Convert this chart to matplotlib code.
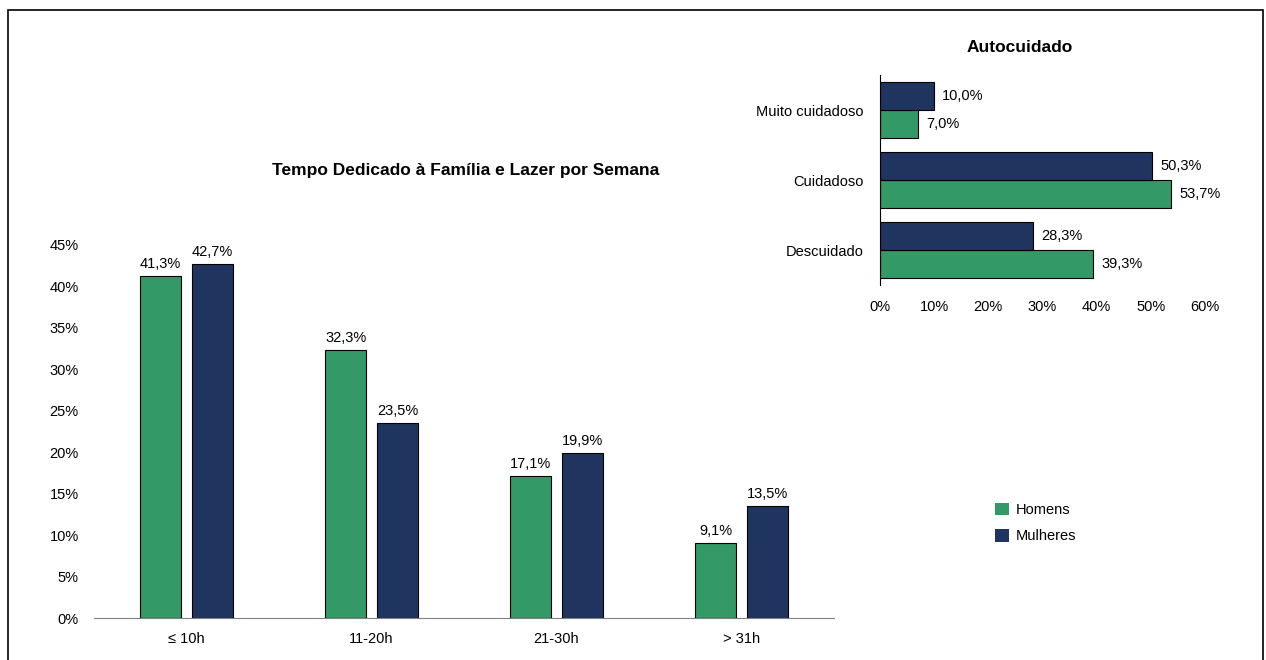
import matplotlib
matplotlib.use("Agg")
import matplotlib.pyplot as plt
from matplotlib.patches import Rectangle, Patch
import numpy as np

plt.rcParams['font.family'] = ['Liberation Sans', 'DejaVu Sans']

# Data
hour_categories = ["≤ 10h", "11-20h", "21-30h", "> 31h"]
homens_tempo = [41.3, 32.3, 17.1, 9.1]
mulheres_tempo = [42.7, 23.5, 19.9, 13.5]

care_categories = ["Muito cuidadoso", "Cuidadoso", "Descuidado"]
homens_care = [7.0, 53.7, 39.3]
mulheres_care = [10.0, 50.3, 28.3]

series_names = ["Homens", "Mulheres"]
GREEN = "#339966"
NAVY = "#1F3560"

W, H = 1266, 660
fig = plt.figure(figsize=(W / 100, H / 100), dpi=100)

def ax_rect(l, t, r, b):
    return [l / W, 1 - b / H, (r - l) / W, (b - t) / H]

def fmt(v):
    return f"{v:.1f}%".replace(".", ",")

# Main chart
ax = fig.add_axes(ax_rect(94, 245, 834, 618))
x = np.arange(len(hour_categories))
bw = 0.22
off = 0.14
b1 = ax.bar(x - off, homens_tempo, bw, color=GREEN, edgecolor="black", linewidth=0.8, label=series_names[0])
b2 = ax.bar(x + off, mulheres_tempo, bw, color=NAVY, edgecolor="black", linewidth=0.8, label=series_names[1])
for bars, vals in ((b1, homens_tempo), (b2, mulheres_tempo)):
    for rect, v in zip(bars, vals):
        ax.text(rect.get_x() + rect.get_width() / 2, v + 0.6, fmt(v), ha="center", va="bottom", fontsize=10.5)
ax.set_xlim(-0.5, len(hour_categories) - 0.5)
ax.set_ylim(0, 45)
ax.set_yticks(np.arange(0, 46, 5))
ax.set_yticklabels([f"{t}%" for t in range(0, 46, 5)], fontsize=10.5)
ax.set_xticks(x)
ax.set_xticklabels(hour_categories, fontsize=10.5)
for s in ("top", "right", "left"):
    ax.spines[s].set_visible(False)
ax.spines["bottom"].set_color("#808080")
ax.tick_params(axis="both", length=0)
ax.tick_params(axis="y", pad=11)
ax.tick_params(axis="x", pad=10)
fig.text(466 / W, 1 - 170 / H, "Tempo Dedicado à Família e Lazer por Semana", ha="center", va="center",
         fontsize=12.5, fontweight="bold")

# Inset chart
ax2 = fig.add_axes(ax_rect(880, 75, 1205, 285))
y = np.arange(len(care_categories))
bh = 0.4
h1 = ax2.barh(y + bh / 2, homens_care, bh, color=GREEN, edgecolor="black", linewidth=0.8)
h2 = ax2.barh(y - bh / 2, mulheres_care, bh, color=NAVY, edgecolor="black", linewidth=0.8)
for bars, vals in ((h1, homens_care), (h2, mulheres_care)):
    for rect, v in zip(bars, vals):
        ax2.text(v + 1.5, rect.get_y() + rect.get_height() / 2, fmt(v), ha="left", va="center", fontsize=10.5)
ax2.set_ylim(len(care_categories) - 0.5, -0.5)
ax2.set_xlim(0, 60)
ax2.set_xticks(np.arange(0, 61, 10))
ax2.set_xticklabels([f"{t}%" for t in range(0, 61, 10)], fontsize=10.5)
ax2.set_yticks(y)
ax2.set_yticklabels(care_categories, fontsize=10.5)
for s in ("top", "right", "bottom"):
    ax2.spines[s].set_visible(False)
ax2.tick_params(axis="both", length=0)
ax2.tick_params(axis="x", pad=11)
ax2.tick_params(axis="y", pad=12)
fig.text(1020 / W, 1 - 47 / H, "Autocuidado", ha="center", va="center", fontsize=12.5, fontweight="bold")

# Legend
handles = [Patch(facecolor=GREEN, edgecolor="none"), Patch(facecolor=NAVY, edgecolor="none")]
fig.legend(handles, series_names, loc="center left", bbox_to_anchor=(982 / W, 1 - 523 / H),
           frameon=False, fontsize=10.5, handlelength=0.95, handleheight=0.95, handletextpad=0.45,
           labelspacing=0.85)

# Figure border
fig.patches.append(Rectangle((8 / W, -0.02), (1263 - 8) / W, 1 - 10 / H + 0.02, transform=fig.transFigure,
                             fill=False, edgecolor="black", linewidth=1.2))

fig.savefig("out.png", dpi=100)
